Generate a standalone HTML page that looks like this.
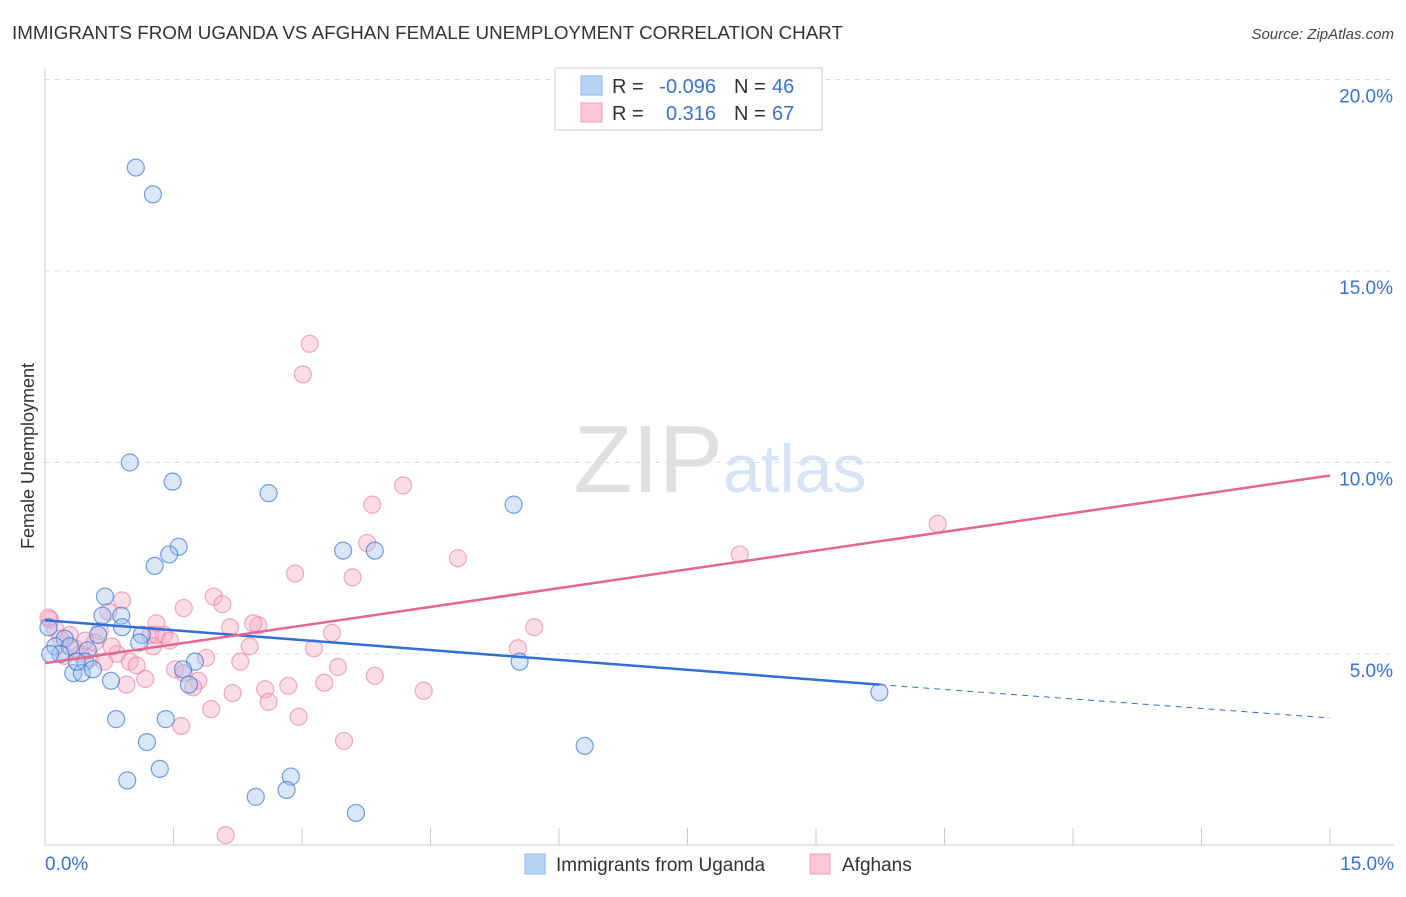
<!DOCTYPE html>
<html><head><meta charset="utf-8"><style>
body{margin:0;background:#fff;font-family:"Liberation Sans",sans-serif;}
svg text{font-family:"Liberation Sans",sans-serif;}
</style></head><body>
<svg id="chart" width="1406" height="892" xmlns="http://www.w3.org/2000/svg">
<text x="12" y="39" font-size="18" fill="#333" textLength="831" lengthAdjust="spacingAndGlyphs">IMMIGRANTS FROM UGANDA VS AFGHAN FEMALE UNEMPLOYMENT CORRELATION CHART</text>
<text x="1394" y="39" font-size="15" fill="#444" text-anchor="end" font-style="italic">Source: ZipAtlas.com</text>
<text x="720" y="492" font-size="96" text-anchor="middle" font-family="Liberation Serif"><tspan fill="#e0e0e0">ZIP</tspan><tspan fill="#d6e4f5" font-family="Liberation Sans" font-size="68">atlas</tspan></text>
<text transform="translate(34,456) rotate(-90)" font-size="18" fill="#333" text-anchor="middle">Female Unemployment</text>
<g id="grid"></g><g id="axes"></g><g id="pts"></g><g id="trends"></g>
<g>
<rect x="555" y="68" width="267" height="62" fill="#fff" stroke="#ccc"/>
<rect x="581" y="76" width="21" height="19" fill="#b8d4f5" stroke="#8ab4ea"/>
<rect x="581" y="103" width="21" height="19" fill="#fcc8d8" stroke="#f2a0ba"/>
<text x="612" y="93" font-size="20" fill="#333">R =</text>
<text x="716" y="93" font-size="20" fill="#3a72d0" text-anchor="end">-0.096</text>
<text x="734" y="93" font-size="20" fill="#333">N =</text>
<text x="772" y="93" font-size="20" fill="#3a72d0">46</text>
<text x="612" y="120" font-size="20" fill="#333">R =</text>
<text x="716" y="120" font-size="20" fill="#3a72d0" text-anchor="end">0.316</text>
<text x="734" y="120" font-size="20" fill="#333">N =</text>
<text x="772" y="120" font-size="20" fill="#3a72d0">67</text>
</g>
<g>
<rect x="525" y="854" width="20" height="20" fill="#b8d4f5" stroke="#8ab4ea"/>
<text x="556" y="871" font-size="19" fill="#333">Immigrants from Uganda</text>
<rect x="810" y="854" width="20" height="20" fill="#fcc8d8" stroke="#f2a0ba"/>
<text x="842" y="871" font-size="19" fill="#333">Afghans</text>
</g>
</svg>
<script>
const yTicks=[5,10,15,20];
const xTickLabels=["0.0%","15.0%"];
const blueX=[1.06,1.26,0.99,1.49,2.61,5.47,1.56,1.45,1.28,3.48,3.85,0.70,0.89,0.67,0.90,0.62,1.13,0.23,1.10,0.12,0.29,0.50,0.18,0.47,1.75,1.61,0.33,0.43,0.56,1.68,0.77,5.54,9.74,0.83,1.41,1.19,6.30,1.34,0.96,2.87,2.82,2.46,3.63,0.04,0.06,0.37];
const blueY=[17.7,17.0,10.0,9.5,9.2,8.9,7.8,7.6,7.3,7.7,7.7,6.5,6.0,6.0,5.7,5.5,5.5,5.4,5.3,5.2,5.2,5.1,5.0,4.8,4.8,4.6,4.5,4.5,4.6,4.2,4.3,4.8,4.0,3.3,3.3,2.7,2.6,2.0,1.7,1.8,1.45,1.27,0.85,5.7,5.0,4.8];
const pinkX=[3.09,3.01,4.18,3.82,10.42,3.76,4.82,8.11,2.92,3.59,1.97,2.07,0.90,1.62,0.74,1.30,5.71,2.49,2.43,2.16,3.35,1.39,1.23,0.64,0.29,2.39,5.52,3.14,1.26,0.84,1.88,0.53,2.28,0.99,1.07,0.69,3.42,1.52,1.62,1.79,3.85,2.84,3.26,2.57,2.19,1.73,0.95,1.17,2.61,4.42,1.94,2.96,1.59,3.49,2.11,0.06,0.12,0.18,0.35,0.58,0.78,0.41,0.23,1.30,1.46,0.47,0.04];
const pinkY=[13.1,12.3,9.4,8.9,8.4,7.9,7.5,7.6,7.1,7.0,6.5,6.3,6.4,6.2,6.1,5.8,5.7,5.75,5.8,5.7,5.55,5.5,5.5,5.6,5.5,5.2,5.15,5.15,5.2,5.0,4.9,4.9,4.8,4.8,4.7,4.8,4.66,4.6,4.5,4.3,4.43,4.17,4.25,4.08,3.98,4.13,4.2,4.35,3.75,4.04,3.56,3.36,3.12,2.73,0.27,5.9,5.65,5.4,5.15,5.3,5.2,5.0,4.95,5.5,5.35,5.35,5.95];
const blueTrend=[0,5.88,9.74,4.2,15,3.33];
const pinkTrend=[0,4.76,15,9.66];
const NS="http://www.w3.org/2000/svg";
const X=v=>45+v/15*1285, Y=v=>845.5-v*38.3;
function mk(t,a,p){const e=document.createElementNS(NS,t);for(const k in a)e.setAttribute(k,a[k]);p.appendChild(e);return e;}
const grid=document.getElementById('grid'),axes=document.getElementById('axes'),pts=document.getElementById('pts'),tr=document.getElementById('trends');
yTicks.forEach(t=>{
const l=mk('line',{x1:45,x2:1394,y1:Y(t),y2:Y(t),stroke:'#ddd','stroke-dasharray':'5,5'},grid);


const tx=mk('text',{x:1393,y:Y(t)+23,'font-size':19,fill:'#3a72d0','text-anchor':'end'},axes);tx.textContent=t.toFixed(1)+'%';


});
mk('line',{x1:45,x2:45,y1:68,y2:845,stroke:'#ccc'},axes);
mk('line',{x1:45,x2:1394,y1:845,y2:845,stroke:'#ccc'},axes);
for(let i=0;i<=10;i++){const l=mk('line',{x1:X(i*1.5),x2:X(i*1.5),y1:828,y2:845,stroke:'#ccc'},axes);

}
const xl0=mk('text',{x:45,y:870,'font-size':19,fill:'#3a72d0'},axes);xl0.textContent=xTickLabels[0];


const xl1=mk('text',{x:1394,y:870,'font-size':19,fill:'#3a72d0','text-anchor':'end'},axes);xl1.textContent=xTickLabels[1];


pinkX.forEach((v,i)=>{const c=mk('circle',{cx:X(v),cy:Y(pinkY[i]),r:8.5,fill:'rgba(248,170,195,0.4)',stroke:'rgba(232,120,155,0.6)','stroke-width':1.2},pts);

});
blueX.forEach((v,i)=>{const c=mk('circle',{cx:X(v),cy:Y(blueY[i]),r:8.5,fill:'rgba(160,195,240,0.4)',stroke:'rgba(60,120,210,0.7)','stroke-width':1.2},pts);

});
const bt=mk('line',{x1:X(blueTrend[0]),y1:Y(blueTrend[1]),x2:X(blueTrend[2]),y2:Y(blueTrend[3]),stroke:'#2f6fd6','stroke-width':2.5},tr);


const bd=mk('line',{x1:X(blueTrend[2]),y1:Y(blueTrend[3]),x2:X(blueTrend[4]),y2:Y(blueTrend[5]),stroke:'#2f6fd6','stroke-width':1,'stroke-dasharray':'6,5'},tr);


const pt=mk('line',{x1:X(pinkTrend[0]),y1:Y(pinkTrend[1]),x2:X(pinkTrend[2]),y2:Y(pinkTrend[3]),stroke:'#e4678f','stroke-width':2.5},tr);


</script>
</body></html>
